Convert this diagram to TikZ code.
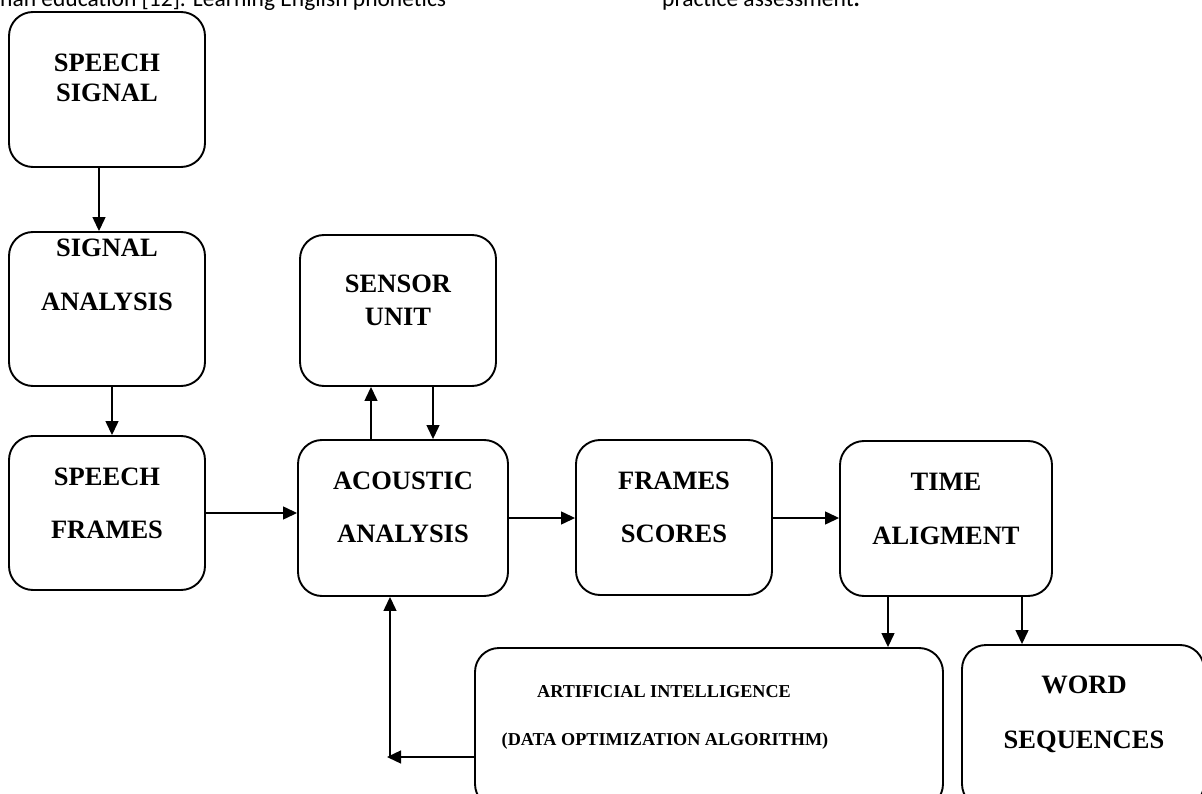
\documentclass[tikz,border=0pt]{standalone}
\usepackage{fontspec}
\setmainfont{Liberation Serif}
\newfontfamily\bodyfont{Carlito}
\usetikzlibrary{arrows.meta}
\begin{document}
\begin{tikzpicture}[x=1pt,y=-1pt,
  blk/.style={draw,line width=1.9pt,rounded corners=24pt,inner sep=0pt},
  lbl/.style={anchor=base,inner sep=0pt,font=\fontsize{26.5}{30}\selectfont\bfseries},
  smlbl/.style={anchor=base,inner sep=0pt,font=\fontsize{18.2}{22}\selectfont\bfseries},
  bodytxt/.style={anchor=base west,inner sep=0pt,font=\bodyfont\fontsize{23.5}{28}\selectfont},
  arr/.style={line width=1.3pt,-{Triangle[length=14pt,width=13pt]}},
  ln/.style={line width=1.3pt}]
\useasboundingbox (0,0) rectangle (1202,794);
\clip (0,0) rectangle (1202,794);
% partial body text at the top
\node[bodytxt] (bt1) at (0,7) {nan education [12]. Learning English phonetics};
\node[bodytxt] (bt2) at (662,7) {practice assessment\textbf{.}};
% boxes
\node[blk,minimum width=196pt,minimum height=155pt] (ss) at (107,89.5) {};
\node[blk,minimum width=196pt,minimum height=154pt] (sa) at (107,309) {};
\node[blk,minimum width=196pt,minimum height=154pt] (sf) at (107,513) {};
\node[blk,minimum width=196pt,minimum height=151pt] (su) at (398,310.5) {};
\node[blk,minimum width=210pt,minimum height=156pt] (ac) at (403,518) {};
\node[blk,minimum width=196pt,minimum height=155pt] (fs) at (674,517.5) {};
\node[blk,minimum width=212pt,minimum height=155pt] (ta) at (946,518.5) {};
\node[blk,minimum width=468pt,minimum height=160pt] (ai) at (709,728) {};
\node[blk,minimum width=242pt,minimum height=163pt] (ws) at (1083,726.5) {};
% labels
\node[lbl] (ss1) at (107,72) {SPEECH};
\node[lbl] (ss2) at (107,102) {SIGNAL};
\node[lbl] (sa1) at (107,257) {SIGNAL};
\node[lbl] (sa2) at (107,311) {ANALYSIS};
\node[lbl] (sf1) at (107,485) {SPEECH};
\node[lbl] (sf2) at (107,538) {FRAMES};
\node[lbl] (su1) at (398,293) {SENSOR};
\node[lbl] (su2) at (398,326) {UNIT};
\node[lbl] (ac1) at (403,489) {ACOUSTIC};
\node[lbl] (ac2) at (403,542) {ANALYSIS};
\node[lbl] (fs1) at (674,489) {FRAMES};
\node[lbl] (fs2) at (674,542) {SCORES};
\node[lbl] (ta1) at (946,490) {TIME};
\node[lbl] (ta2) at (946,544) {ALIGMENT};
\node[lbl] (ws1) at (1084,693) {WORD};
\node[lbl] (ws2) at (1084,748) {SEQUENCES};
\node[smlbl] (ai1) at (664,697) {ARTIFICIAL INTELLIGENCE};
\node[smlbl] (ai2) at (665,745) {(DATA OPTIMIZATION ALGORITHM)};
% connectors
\draw[arr] (ss.south -| 99,0) -- (sa.north -| 99,0);
\draw[arr] (sa.south -| 112,0) -- (sf.north -| 112,0);
\draw[arr] (sf.east |- 0,513) -- (ac.west |- 0,513);
\draw[arr] (ac.north -| 371,0) -- (su.south -| 371,0);
\draw[arr] (su.south -| 433,0) -- (ac.north -| 433,0);
\draw[arr] (ac.east |- 0,518) -- (fs.west |- 0,518);
\draw[arr] (fs.east |- 0,518) -- (ta.west |- 0,518);
\draw[arr] (ta.south -| 888,0) -- (ai.north -| 888,0);
\draw[arr] (ta.south -| 1022,0) -- (ws.north -| 1022,0);
\coordinate (fbtip) at (387,757);
\coordinate (fbcorner) at (390,757);
\draw[arr] (ai.west |- fbtip) -- (fbtip);
\draw[arr] (fbcorner) -- (ac.south -| fbcorner);
\end{tikzpicture}
\end{document}
